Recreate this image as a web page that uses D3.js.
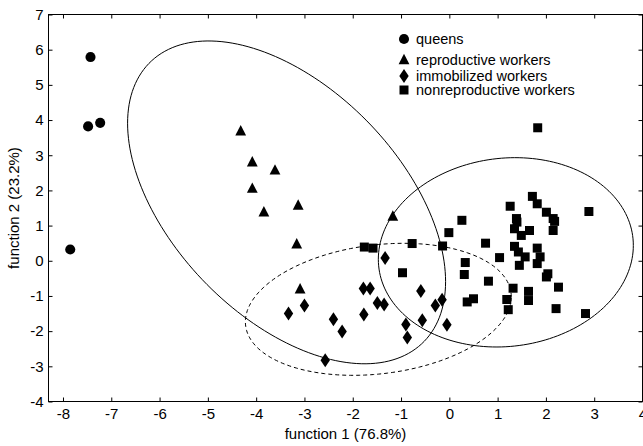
<!DOCTYPE html>
<html>
<head>
<meta charset="utf-8">
<script src="https://cdn.jsdelivr.net/npm/d3@7"></script>
<style>
  body { margin: 0; background: #fff; }
  svg { display: block; font-family: "Liberation Sans", Arial, Helvetica, sans-serif; }
</style>
</head>
<body>
<svg id="chart" width="643" height="446"></svg>
<script>
// discriminant scores
const queens = [[-7.43, 5.79], [-7.48, 3.82], [-7.23, 3.92], [-7.85, 0.32]];
const reproductive = [
  [-4.32, 3.68], [-4.08, 2.80], [-3.61, 2.57], [-4.08, 2.05], [-3.84, 1.38],
  [-3.13, 1.57], [-3.16, 0.47], [-3.09, -0.81], [-1.17, 1.26]
];
const immobilized = [
  [-1.33, 0.08], [-1.78, -0.79], [-1.64, -0.79], [-1.49, -1.20], [-1.35, -1.24],
  [-3.00, -1.27], [-3.33, -1.50], [-1.77, -1.53], [-2.40, -1.66], [-2.22, -2.01],
  [-0.59, -0.86], [-0.29, -1.27], [-0.15, -1.11], [-0.90, -1.81], [-0.56, -1.69],
  [-0.05, -1.82], [-0.87, -2.18], [-2.57, -2.83]
];
const nonreproductive = [
  [1.83, 3.78], [-1.76, 0.39], [-1.58, 0.36], [-0.77, 0.49], [-0.14, 0.42],
  [-0.97, -0.34], [-0.01, 0.80], [0.26, 1.15], [0.75, 0.50], [0.33, -0.05],
  [0.31, -0.39], [1.04, 0.09], [0.81, -0.58], [0.37, -1.17], [0.50, -1.08],
  [1.32, -0.78], [1.19, -1.10], [1.22, -1.39],
  [1.26, 1.55], [1.72, 1.83], [1.82, 1.62], [2.01, 1.38], [2.15, 1.20],
  [2.18, 1.12], [2.15, 0.86], [2.89, 1.40], [1.39, 1.20], [1.40, 1.10],
  [1.35, 0.91], [1.49, 0.72], [1.66, 0.86], [1.35, 0.41], [1.43, 0.25],
  [1.57, 0.11], [1.45, -0.13], [1.82, 0.36], [1.88, 0.11], [1.82, -0.08],
  [2.04, -0.37], [2.01, -0.46], [2.26, -0.75], [1.64, -0.87], [1.64, -1.13],
  [2.21, -1.36], [2.82, -1.50]
];

// confidence ellipses: centre and covariance [sxx, sxy, syy]
const ellipseCenters = [[-3.37, 1.66], [1.17, 0.24], [-1.47, -1.38]];
const ellipseCov = [[10.84, -7.41, 21.05], [6.97, 0.52, 7.24], [7.58, 0.98, 3.52]];
const ellipseDashed = [false, false, true];

const xTicks = [-8, -7, -6, -5, -4, -3, -2, -1, 0, 1, 2, 3, 4];
const yTicks = [-4, -3, -2, -1, 0, 1, 2, 3, 4, 5, 6, 7];
const legendLabels = ["queens", "reproductive workers", "immobilized workers", "nonreproductive workers"];
const legendRows = [39, 60, 76, 90];

const svg = d3.select("#chart");
const plotLeft = 48.5, plotRight = 642.5, plotTop = 14.5, plotBottom = 401.5;

const x = d3.scaleLinear().domain([-8.3, 4]).range([plotLeft, plotRight]);
const y = d3.scaleLinear().domain([-4, 7]).range([plotBottom, plotTop]);

// ellipses
function ellipsePoints(c, cov) {
  const l11 = Math.sqrt(cov[0]);
  const l21 = cov[1] / l11;
  const l22 = Math.sqrt(cov[2] - l21 * l21);
  return d3.range(180).map(i => {
    const t = 2 * Math.PI * i / 180;
    const u = Math.cos(t), v = Math.sin(t);
    return [c[0] + l11 * u, c[1] + l21 * u + l22 * v];
  });
}
const line = d3.line().x(d => x(d[0])).y(d => y(d[1])).curve(d3.curveLinearClosed);

svg.append("g").selectAll("path")
  .data(ellipseCenters)
  .enter().append("path")
  .attr("d", (d, i) => line(ellipsePoints(d, ellipseCov[i])))
  .attr("fill", "none")
  .attr("stroke", "#000")
  .attr("stroke-width", 1)
  .attr("stroke-dasharray", (d, i) => ellipseDashed[i] ? "4,3" : null);

// marker shapes
const circlePath = d3.symbol().type(d3.symbolCircle).size(80)();
const squarePath = d3.symbol().type(d3.symbolSquare).size(81)();
const trianglePath = "M0,-6.2L5.4,4.2L-5.4,4.2Z";
const diamondPath = "M0,-7L4.7,0L0,7L-4.7,0Z";
const shapes = [circlePath, trianglePath, diamondPath, squarePath];
const groups = [queens, reproductive, immobilized, nonreproductive];

groups.forEach((data, gi) => {
  svg.append("g").selectAll("path")
    .data(data)
    .enter().append("path")
    .attr("d", shapes[gi])
    .attr("transform", d => "translate(" + x(d[0]) + "," + y(d[1]) + ")")
    .attr("fill", "#000");
});

// axes with inward ticks on all four sides
const axisFont = g => g.selectAll("text").style("font-size", "15px").attr("fill", "#000");

svg.append("g")
  .attr("transform", "translate(0," + plotBottom + ")")
  .call(d3.axisBottom(x).tickValues(xTicks).tickSize(-4).tickSizeOuter(0).tickPadding(7))
  .call(axisFont)
  .call(g => g.select(".domain").remove());

svg.append("g")
  .attr("transform", "translate(" + plotLeft + ",0)")
  .call(d3.axisLeft(y).tickValues(yTicks).tickSize(-4).tickSizeOuter(0).tickPadding(5))
  .call(axisFont)
  .call(g => g.select(".domain").remove());

svg.append("g")
  .attr("transform", "translate(0," + plotTop + ")")
  .call(d3.axisTop(x).tickValues(xTicks).tickSize(-4).tickSizeOuter(0).tickFormat(""))
  .call(g => g.select(".domain").remove());

svg.append("g")
  .attr("transform", "translate(" + plotRight + ",0)")
  .call(d3.axisRight(y).tickValues(yTicks).tickSize(-4).tickSizeOuter(0).tickFormat(""))
  .call(g => g.select(".domain").remove());

svg.selectAll(".tick text").text(function () { return this.textContent.replace("−", "-"); });

svg.append("rect")
  .attr("x", plotLeft).attr("y", plotTop)
  .attr("width", plotRight - plotLeft).attr("height", plotBottom - plotTop)
  .attr("fill", "none").attr("stroke", "#000").attr("stroke-width", 1);

// axis titles
svg.append("text")
  .attr("x", (plotLeft + plotRight) / 2).attr("y", 439)
  .attr("text-anchor", "middle")
  .style("font-size", "15px")
  .text("function 1 (76.8%)");

svg.append("text")
  .attr("transform", "translate(19," + (plotTop + plotBottom) / 2 + ") rotate(-90)")
  .attr("text-anchor", "middle")
  .style("font-size", "15px")
  .text("function 2 (23.2%)");

// legend
const legend = svg.append("g");
legendLabels.forEach((label, i) => {
  legend.append("path")
    .attr("d", shapes[i])
    .attr("transform", "translate(404," + legendRows[i] + ")")
    .attr("fill", "#000");
  legend.append("text")
    .attr("x", 416).attr("y", legendRows[i])
    .attr("dy", "0.35em")
    .style("font-size", "14.5px")
    .text(label);
});
</script>
</body>
</html>
